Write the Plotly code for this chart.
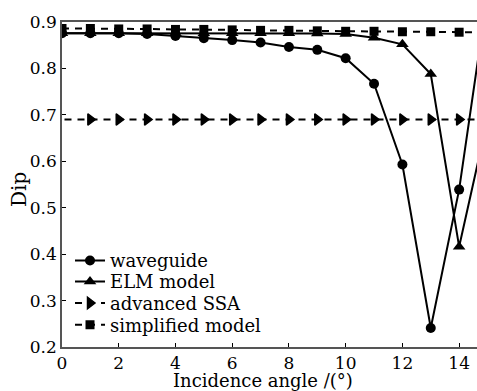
import plotly.graph_objects as go

angles = [0, 1, 2, 3, 4, 5, 6, 7, 8, 9, 10, 11, 12, 13, 14, 15]
waveguide = [0.876, 0.876, 0.876, 0.874, 0.870, 0.865, 0.861, 0.856, 0.846, 0.840,
             0.822, 0.767, 0.593, 0.241, 0.539, 0.96]
elm_model = [0.876, 0.876, 0.876, 0.876, 0.876, 0.876, 0.876, 0.876, 0.876, 0.875,
             0.874, 0.866, 0.852, 0.788, 0.416, 0.69]
advanced_ssa = [0.690, 0.690, 0.690, 0.690, 0.690, 0.690, 0.690, 0.690, 0.690, 0.690,
                0.690, 0.690, 0.690, 0.690, 0.690, 0.690]
simplified = [0.886, 0.886, 0.885, 0.885, 0.884, 0.884, 0.883, 0.882, 0.882, 0.881,
              0.880, 0.880, 0.879, 0.879, 0.878, 0.878]
x_ticks = [0, 2, 4, 6, 8, 10, 12, 14]
y_ticks = [0.2, 0.3, 0.4, 0.5, 0.6, 0.7, 0.8, 0.9]

FONT = "DejaVu Serif"
fig = go.Figure()

fig.add_trace(go.Scatter(x=angles, y=simplified, name="simplified model",
                         mode="lines+markers", legend="legend4",
                         line=dict(color="black", width=2, dash="7px,6px"),
                         marker=dict(symbol="square", size=9, color="black")))

# drawn from the last angle back to the first so the legend takes a visible marker;
# the marker at angle 0 is hidden as in the reference
ssa_colors = ["#000000"] * 15 + ["rgba(0,0,0,0)"]
fig.add_trace(go.Scatter(x=angles[::-1], y=advanced_ssa[::-1], name="advanced SSA",
                         mode="lines+markers", legend="legend3",
                         line=dict(color="black", width=2, dash="7px,6px"),
                         marker=dict(symbol="triangle-right", size=10, opacity=1,
                                     color=ssa_colors,
                                     line=dict(color=ssa_colors, width=1.5))))
fig.add_trace(go.Scatter(x=angles, y=elm_model, name="ELM model",
                         mode="lines+markers", legend="legend2",
                         line=dict(color="black", width=2),
                         marker=dict(symbol="triangle-up", size=11, color="black")))
fig.add_trace(go.Scatter(x=angles, y=waveguide, name="waveguide",
                         mode="lines+markers", legend="legend",
                         line=dict(color="black", width=2),
                         marker=dict(symbol="circle", size=10, color="black")))

def leg(ypos):
    return dict(x=0.0193, y=ypos, xanchor="left", yanchor="middle",
                bgcolor="rgba(0,0,0,0)", font=dict(family=FONT, size=18),
                itemwidth=30)

fig.update_layout(
    width=477, height=391,
    margin=dict(l=62, r=0, t=22, b=44),
    plot_bgcolor="white", paper_bgcolor="white",
    font=dict(family=FONT, size=17, color="black"),
    showlegend=True,
    legend=leg(0.2655),
    legend2=leg(0.2009),
    legend3=leg(0.1345),
    legend4=leg(0.0677),
    xaxis=dict(range=[0, 14.63], tickvals=x_ticks, ticks="inside", ticklen=4,
               tickcolor="black", showline=True, linecolor="#555", linewidth=1.5,
               mirror=True, showgrid=False, zeroline=False),
    yaxis=dict(range=[0.2, 0.9], tickvals=y_ticks, ticks="inside", ticklen=4,
               tickcolor="black", showline=True, linecolor="#555", linewidth=1.5,
               mirror=False, showgrid=False, zeroline=False, tickformat=".1f"),
    annotations=[
        dict(text="Incidence angle /(°)", xref="paper", yref="paper",
             x=(263 - 62) / 415, y=(347 - 369) / 325, xanchor="center",
             yanchor="top", showarrow=False, borderpad=0,
             font=dict(family=FONT, size=18)),
        dict(text="Dip", xref="paper", yref="paper", textangle=-90,
             x=(19 - 62) / 415, y=(347 - 190) / 325, xanchor="center",
             yanchor="middle", showarrow=False, font=dict(family=FONT, size=20)),
    ],
)

fig.write_html("out.html")
